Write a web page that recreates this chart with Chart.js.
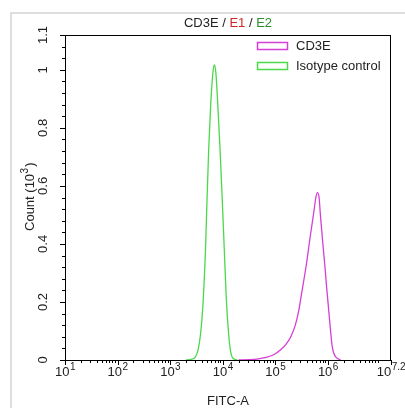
<!DOCTYPE html>
<html>
<head>
<meta charset="utf-8">
<script src="https://cdn.jsdelivr.net/npm/chart.js@4.4.0/dist/chart.umd.min.js"></script>
<style>
  body { margin: 0; background: #fff; }
</style>
</head>
<body>
<canvas id="fitc-histogram" width="405" height="408"></canvas>
<script>
// FITC-A intensity (x) and count in 10^3 (y)
let cd3eFitc = [2.0e4, 3.2e4, 4.5e4, 6.3e4, 9.3e4, 1.26e5, 1.66e5, 2.0e5, 2.4e5, 2.8e5, 3.2e5, 3.9e5, 4.65e5, 5.4e5, 5.9e5, 6.3e5, 6.8e5, 7.2e5, 7.8e5, 8.7e5, 9.5e5, 1.05e6, 1.12e6, 1.2e6, 1.29e6, 1.45e6, 1.74e6];
let cd3eCount = [0, 0.001, 0.003, 0.008, 0.018, 0.035, 0.058, 0.083, 0.12, 0.172, 0.235, 0.33, 0.43, 0.51, 0.56, 0.577, 0.56, 0.5, 0.425, 0.33, 0.247, 0.16, 0.103, 0.05, 0.024, 0.008, 0];

let isotypeFitc = [2.0e3, 2.5e3, 3.0e3, 3.4e3, 3.8e3, 4.2e3, 4.7e3, 5.0e3, 5.4e3, 5.9e3, 6.5e3, 6.9e3, 7.4e3, 8.1e3, 8.9e3, 9.8e3, 1.07e4, 1.17e4, 1.29e4, 1.41e4, 1.58e4, 1.9e4];
let isotypeCount = [0, 0.002, 0.01, 0.035, 0.092, 0.19, 0.38, 0.54, 0.724, 0.88, 0.99, 1.017, 0.99, 0.87, 0.724, 0.55, 0.38, 0.21, 0.092, 0.03, 0.005, 0];

// axis ticks
let xTickPowers = ["1", "2", "3", "4", "5", "6", "7.2"];
let yTickLabels = ["0", "0.2", "0.4", "0.6", "0.8", "1"];
let yTopLabel = "1.1";

// title pieces and their colours
let titleParts = ["CD3E / ", "E1", " / ", "E2"];
let titleColors = ["#222", "#d42626", "#222", "#2a8c2a"];

let magenta = "#d63fd6";
let green = "#4bd84b";
let textColor = "#222";
let fontName = "'Liberation Sans', Arial, sans-serif";

let canvas = document.querySelector("#fitc-histogram");
let context = canvas.getContext("2d");

function toPoints(xs, ys) {
  return xs.map(function (x, i) {
    return { x: x, y: ys[i] };
  });
}

// draws "10" with a superscript, centred on (cx, baseline)
function drawPower(ctx, power, cx, baseline) {
  ctx.font = "13px " + fontName;
  let baseWidth = ctx.measureText("10").width;
  ctx.font = "10px " + fontName;
  let supWidth = ctx.measureText(power).width;
  let left = cx - (baseWidth + supWidth) / 2;
  ctx.textAlign = "left";
  ctx.textBaseline = "alphabetic";
  ctx.font = "13px " + fontName;
  ctx.fillText("10", left, baseline);
  ctx.font = "10px " + fontName;
  ctx.fillText(power, left + baseWidth + 0.5, baseline - 6);
}

// frame, ticks, labels, title and legend drawn over the chart
let decorations = {
  id: "decorations",
  afterDraw(chart) {
    let ctx = chart.ctx;
    let area = chart.chartArea;
    let xScale = chart.scales.x;
    let yScale = chart.scales.y;
    ctx.save();

    // light outer border
    ctx.strokeStyle = "#dedede";
    ctx.lineWidth = 2;
    ctx.beginPath();
    ctx.moveTo(11, 408);
    ctx.lineTo(11, 13);
    ctx.lineTo(405, 13);
    ctx.stroke();

    // plot frame
    ctx.strokeStyle = "#000";
    ctx.lineWidth = 1;
    ctx.strokeRect(area.left + 0.5, area.top + 0.5, area.right - area.left - 1, area.bottom - area.top);

    // x ticks: majors at powers, minors at 2..9 of each decade
    ctx.beginPath();
    xTickPowers.forEach(function (p) {
      let px = Math.round(xScale.getPixelForValue(Math.pow(10, parseFloat(p)))) + 0.5;
      ctx.moveTo(px, area.bottom);
      ctx.lineTo(px, area.bottom + 5);
    });
    for (let d = 1; d <= 7; d++) {
      for (let m = 2; m <= 9; m++) {
        let v = m * Math.pow(10, d);
        if (v > xScale.max) continue;
        let px = Math.round(xScale.getPixelForValue(v)) + 0.5;
        ctx.moveTo(px, area.bottom);
        ctx.lineTo(px, area.bottom + 3);
      }
    }
    // y ticks: majors every 0.2, minors every 0.04
    yTickLabels.forEach(function (t) {
      let py = Math.round(yScale.getPixelForValue(parseFloat(t))) + 0.5;
      ctx.moveTo(area.left, py);
      ctx.lineTo(area.left - 5, py);
    });
    ctx.moveTo(area.left, area.top + 0.5);
    ctx.lineTo(area.left - 5, area.top + 0.5);
    for (let i = 1; i * 0.04 < yScale.max; i++) {
      if (i % 5 === 0) continue;
      let py = Math.round(yScale.getPixelForValue(i * 0.04)) + 0.5;
      ctx.moveTo(area.left, py);
      ctx.lineTo(area.left - 3, py);
    }
    ctx.stroke();

    // x tick labels
    ctx.fillStyle = textColor;
    xTickPowers.forEach(function (p) {
      let px = xScale.getPixelForValue(Math.pow(10, parseFloat(p)));
      drawPower(ctx, p, px, area.bottom + 16);
    });

    // y tick labels, rotated
    ctx.font = "13px " + fontName;
    ctx.textAlign = "center";
    ctx.textBaseline = "middle";
    let yLabels = yTickLabels.map(function (t) {
      return [t, yScale.getPixelForValue(parseFloat(t))];
    });
    yLabels.push([yTopLabel, area.top]);
    yLabels.forEach(function (item) {
      ctx.save();
      ctx.translate(43, item[1]);
      ctx.rotate(-Math.PI / 2);
      ctx.fillText(item[0], 0, 0);
      ctx.restore();
    });

    // y axis title with superscript
    ctx.save();
    ctx.translate(30, (area.top + area.bottom) / 2);
    ctx.rotate(-Math.PI / 2);
    ctx.font = "13px " + fontName;
    let w1 = ctx.measureText("Count (10").width;
    ctx.font = "10px " + fontName;
    let w2 = ctx.measureText("3").width;
    ctx.font = "13px " + fontName;
    let w3 = ctx.measureText(")").width;
    let start = -(w1 + w2 + w3) / 2;
    ctx.textAlign = "left";
    ctx.textBaseline = "middle";
    ctx.fillText("Count (10", start, 0);
    ctx.font = "10px " + fontName;
    ctx.fillText("3", start + w1 + 0.5, -5);
    ctx.font = "13px " + fontName;
    ctx.fillText(")", start + w1 + w2 + 1.5, 0);
    ctx.restore();

    // x axis title
    ctx.font = "13px " + fontName;
    ctx.textAlign = "center";
    ctx.textBaseline = "middle";
    ctx.fillText("FITC-A", (area.left + area.right) / 2, 401);

    // coloured title
    ctx.textAlign = "left";
    ctx.textBaseline = "alphabetic";
    let total = 0;
    titleParts.forEach(function (s) { total += ctx.measureText(s).width; });
    let tx = (area.left + area.right) / 2 - total / 2;
    titleParts.forEach(function (s, i) {
      ctx.fillStyle = titleColors[i];
      ctx.fillText(s, tx, 27);
      tx += ctx.measureText(s).width;
    });

    // legend in the top right corner
    ctx.textBaseline = "middle";
    chart.data.datasets.forEach(function (ds, i) {
      let cy = 46 + i * 20;
      ctx.strokeStyle = ds.borderColor;
      ctx.lineWidth = 1.5;
      ctx.strokeRect(257.5, cy - 3.5, 30, 7);
      ctx.fillStyle = textColor;
      ctx.font = "13px " + fontName;
      ctx.fillText(ds.label, 296, cy);
    });

    ctx.restore();
  },
};

let histogram = new Chart(context, {
  type: "line",
  data: {
    datasets: [
      {
        label: "CD3E",
        data: toPoints(cd3eFitc, cd3eCount),
        borderColor: magenta,
        backgroundColor: "transparent",
        borderWidth: 1.3,
        pointRadius: 0,
        fill: false,
        cubicInterpolationMode: "monotone",
      },
      {
        label: "Isotype control",
        data: toPoints(isotypeFitc, isotypeCount),
        borderColor: green,
        backgroundColor: "transparent",
        borderWidth: 1.3,
        pointRadius: 0,
        fill: false,
        cubicInterpolationMode: "monotone",
      },
    ],
  },
  options: {
    responsive: false,
    animation: false,
    devicePixelRatio: 1,
    layout: { padding: { left: 65, top: 35, right: 14, bottom: 48 } },
    plugins: {
      legend: { display: false },
      tooltip: { enabled: false },
    },
    scales: {
      x: { type: "logarithmic", min: 10, max: 1.585e7, display: false },
      y: { type: "linear", min: 0, max: 1.12, display: false },
    },
  },
  plugins: [decorations],
});
</script>
</body>
</html>
